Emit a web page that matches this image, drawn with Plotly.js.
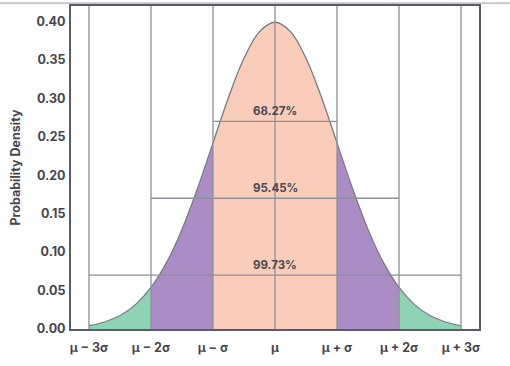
<!DOCTYPE html>
<html>
<head>
<meta charset="utf-8">
<script src="https://cdn.plot.ly/plotly-3.0.1.min.js"></script>
<style>html,body{margin:0;padding:0;background:#fff;}#chart{width:510px;height:366px;}</style>
</head>
<body>
<div id="chart"></div>
<script>
// curve (sigma units vs density)
const zValues = [-3, -2.75, -2.5, -2.25, -2, -1.75, -1.5, -1.25, -1, -0.75, -0.5, -0.25, 0, 0.25, 0.5, 0.75, 1, 1.25, 1.5, 1.75, 2, 2.25, 2.5, 2.75, 3];
const density = [0.0044, 0.0091, 0.0175, 0.0317, 0.0540, 0.0863, 0.1295, 0.1826, 0.2420, 0.3011, 0.3521, 0.3867, 0.3989, 0.3867, 0.3521, 0.3011, 0.2420, 0.1826, 0.1295, 0.0863, 0.0540, 0.0317, 0.0175, 0.0091, 0.0044];
const tickVals = [-3, -2, -1, 0, 1, 2, 3];
const tickText = ['μ − 3σ', 'μ − 2σ', 'μ − σ', 'μ', 'μ + σ', 'μ + 2σ', 'μ + 3σ'];
const bandLabels = ['68.27%', '95.45%', '99.73%'];
const bandHalfWidth = [1, 2, 3];
const bandLevel = [0.27, 0.17, 0.07];
const yTicks = [0, 0.05, 0.1, 0.15, 0.2, 0.25, 0.3, 0.35, 0.4];

const regions = [
  {lo: -3, hi: -2, color: '#8fd3b5'},
  {lo: -2, hi: -1, color: '#aa8dc5'},
  {lo: -1, hi: 1, color: '#f9cdb9'},
  {lo: 1, hi: 2, color: '#aa8dc5'},
  {lo: 2, hi: 3, color: '#8fd3b5'}
];

const traces = regions.map(r => {
  const xs = [], ys = [];
  zValues.forEach((z, i) => { if (z >= r.lo && z <= r.hi) { xs.push(z); ys.push(density[i]); } });
  return {x: xs, y: ys, type: 'scatter', mode: 'lines', fill: 'tozeroy',
    fillcolor: r.color, line: {width: 0, shape: 'spline', color: r.color}, hoverinfo: 'skip', showlegend: false};
});
traces.push({x: zValues, y: density, type: 'scatter', mode: 'lines',
  line: {color: '#7a7a85', width: 1.3, shape: 'spline'}, showlegend: false});

const gridColor = '#8e8f9c';
const shapes = [];
tickVals.forEach(v => shapes.push({type: 'line', xref: 'x', yref: 'paper', x0: v, x1: v, y0: 0, y1: 1,
  line: {color: gridColor, width: 1.3}, layer: 'above'}));
bandLevel.forEach((lv, i) => shapes.push({type: 'line', xref: 'x', yref: 'y', x0: -bandHalfWidth[i], x1: bandHalfWidth[i], y0: lv, y1: lv,
  line: {color: gridColor, width: 1.3}, layer: 'above'}));
shapes.push({type: 'line', xref: 'paper', yref: 'paper', x0: -0.2, x1: 1.1, y0: 1.009, y1: 1.009,
  line: {color: '#9a9a9a', width: 1}, layer: 'above'});

const annotations = bandLabels.map((t, i) => ({x: 0, y: bandLevel[i], xref: 'x', yref: 'y', text: t,
  showarrow: false, yanchor: 'bottom', yshift: 1,
  font: {family: 'Inter, sans-serif', size: 11.5, color: '#4a4a55', weight: 'bold'}}));

const tickFont = {family: 'Inter, sans-serif', size: 12.5, color: '#45454f', weight: 'bold'};
const layout = {
  width: 510, height: 366,
  margin: {l: 71, r: 31, t: 6, b: 37},
  paper_bgcolor: '#ffffff', plot_bgcolor: '#ffffff',
  xaxis: {range: [-3.29, 3.29], tickvals: tickVals, ticktext: tickText, showgrid: false, zeroline: false,
    showline: true, mirror: true, linecolor: '#5a5a6a', linewidth: 2,
    ticks: 'outside', ticklen: 6, tickcolor: 'rgba(0,0,0,0)', tickfont: tickFont, fixedrange: true},
  yaxis: {range: [0, 0.42], tickvals: yTicks, tickformat: '.2f', showgrid: false, zeroline: false,
    showline: true, mirror: true, linecolor: '#5a5a6a', linewidth: 2,
    ticks: 'outside', ticklen: 1, tickcolor: 'rgba(0,0,0,0)', tickfont: tickFont,
    title: {text: 'Probability Density', font: {family: 'Inter, sans-serif', size: 12.5, color: '#45454f', weight: 'bold'}, standoff: 13}},
  shapes: shapes,
  annotations: annotations,
  showlegend: false
};
Plotly.newPlot('chart', traces, layout, {displayModeBar: false, staticPlot: true});
</script>
</body>
</html>
